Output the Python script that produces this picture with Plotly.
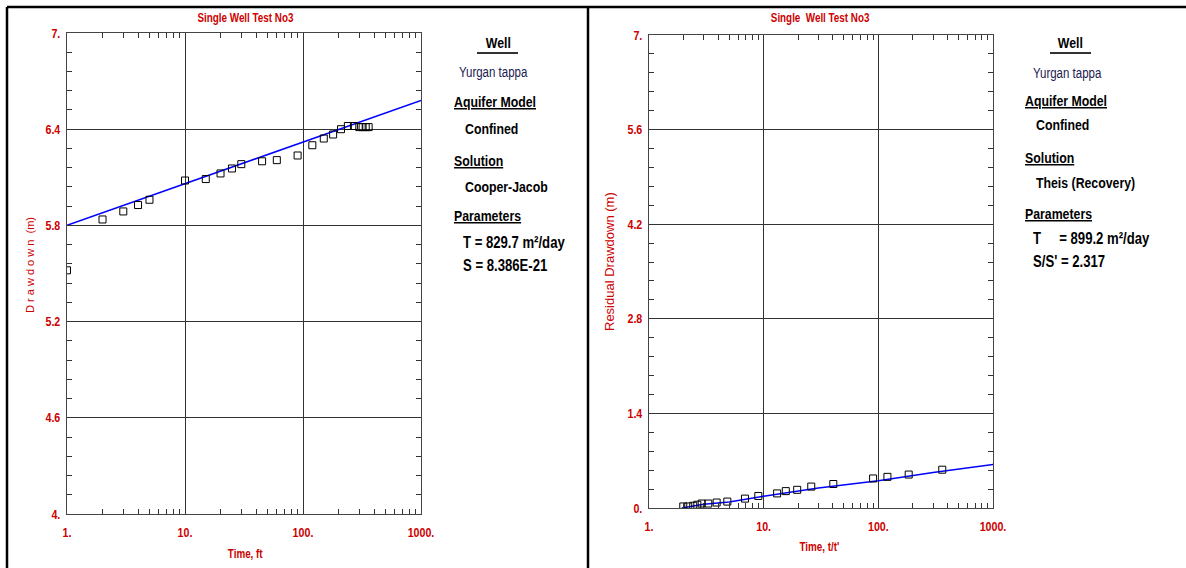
import plotly.graph_objects as go

# ---------------- data ----------------
# Left chart: Cooper-Jacob drawdown
left_time = [1, 2, 3, 4, 5, 10, 15, 20, 25, 30, 45, 60, 90, 120, 150, 180, 210, 240, 270, 300, 320, 340, 360]
left_drawdown = [5.52, 5.837, 5.887, 5.927, 5.96, 6.08, 6.089, 6.124, 6.155, 6.182, 6.20, 6.207, 6.236,
                 6.30, 6.342, 6.367, 6.40, 6.42, 6.42, 6.413, 6.413, 6.413, 6.413]
left_fit_time = [1, 1000]
left_fit_drawdown = [5.80, 6.58]

# Right chart: Theis recovery residual drawdown
right_time = [1.99, 2.2, 2.43, 2.64, 2.88, 3.29, 3.89, 4.82, 6.87, 8.98, 13.1, 15.6, 19.6, 26, 40.5,
              90, 120, 184, 361]
right_residual = [0.023, 0.023, 0.033, 0.048, 0.066, 0.066, 0.081, 0.095, 0.139, 0.178, 0.216, 0.25,
                  0.269, 0.317, 0.355, 0.437, 0.461, 0.495, 0.567]
right_fit_time = [1.93, 3, 5, 10, 30, 100, 300, 1000]
right_fit_residual = [0.0, 0.057, 0.09, 0.175, 0.295, 0.404, 0.525, 0.644]

x_tickvals = [1, 10, 100, 1000]
x_ticktext = ["1.", "10.", "100.", "1000."]
left_y_tickvals = [4, 4.6, 5.2, 5.8, 6.4, 7]
left_y_ticktext = ["4.", "4.6", "5.2", "5.8", "6.4", "7."]
right_y_tickvals = [0, 1.4, 2.8, 4.2, 5.6, 7]
right_y_ticktext = ["0.", "1.4", "2.8", "4.2", "5.6", "7."]

# ---------------- layout helpers ----------------
W, H = 1186, 568
RED = "#cc0000"
NARROW = "Liberation Sans, sans-serif"        # narrowed in the page (Arial Narrow look)
PLAIN = "Arial, Liberation Sans, sans-serif"  # left at normal width
GRID = "#333333"


def px(x):
    return x / W


def py(y):
    return 1 - y / H


minor_x = [k * 10 ** d for d in range(3) for k in range(2, 10)]

fig = go.Figure()

marker = dict(symbol="square-open", size=7, color="black", line=dict(width=1, color="black"))

fig.add_trace(go.Scatter(x=left_fit_time, y=left_fit_drawdown, mode="lines",
                         line=dict(color="#0000ff", width=1.5), xaxis="x", yaxis="y",
                         showlegend=False))
fig.add_trace(go.Scatter(x=left_time, y=left_drawdown, mode="markers", marker=marker,
                         xaxis="x", yaxis="y", showlegend=False))
fig.add_trace(go.Scatter(x=right_fit_time, y=right_fit_residual, mode="lines",
                         line=dict(color="#0000ff", width=1.5), xaxis="x2", yaxis="y2",
                         showlegend=False))
fig.add_trace(go.Scatter(x=right_time, y=right_residual, mode="markers", marker=marker,
                         xaxis="x2", yaxis="y2", showlegend=False))

tickfont = dict(family=NARROW, size=13, color=RED)


def bold(lst):
    return [f"<b>{t}</b>" for t in lst]


def xaxis_cfg(x0, x1, anchor):
    return dict(domain=[px(x0), px(x1)], anchor=anchor, type="log", range=[0, 3],
                tickmode="array", tickvals=x_tickvals, ticktext=bold(x_ticktext),
                tickfont=tickfont, showgrid=True, gridcolor=GRID, gridwidth=1,
                showline=True, linecolor="#444444", linewidth=1.2, mirror="ticks",
                ticks="inside", ticklen=0, ticklabelstandoff=6, zeroline=False,
                automargin=False,
                minor=dict(tickmode="array", tickvals=minor_x, ticks="inside", ticklen=5,
                           tickcolor="#333333", tickwidth=1, showgrid=False),
                fixedrange=True)


def yaxis_cfg(y0, y1, anchor, rng, tv, tt, mdt):
    return dict(domain=[py(y1), py(y0)], anchor=anchor, range=rng,
                tickmode="array", tickvals=tv, ticktext=bold(tt), tickfont=tickfont,
                showgrid=True, gridcolor=GRID, gridwidth=1,
                showline=True, linecolor="#444444", linewidth=1.2, mirror="ticks",
                ticks="inside", ticklen=0, ticklabelstandoff=3, zeroline=False,
                automargin=False,
                minor=dict(tick0=rng[0], dtick=mdt, ticks="inside", ticklen=5,
                           tickcolor="#333333", tickwidth=1, showgrid=False),
                fixedrange=True)


fig.update_layout(
    width=W, height=H, margin=dict(l=0, r=0, t=0, b=0, pad=0, autoexpand=False),
    paper_bgcolor="white", plot_bgcolor="white",
    xaxis=xaxis_cfg(67, 421, "y"),
    yaxis=yaxis_cfg(33, 514, "x", [4, 7], left_y_tickvals, left_y_ticktext, 0.12),
    xaxis2=xaxis_cfg(649, 993, "y2"),
    yaxis2=yaxis_cfg(35, 508, "x2", [0, 7], right_y_tickvals, right_y_ticktext, 0.28),
)

ann = []


def text(x, y, s, size=15, color="black", bold=True, anchor="left", angle=0, family=NARROW):
    if anchor == "left":
        x -= 2  # compensate the annotation box padding
    ann.append(dict(x=px(x), y=py(y), xref="paper", yref="paper", text=(f"<b>{s}</b>" if bold else s),
                    showarrow=False, xanchor=anchor, yanchor="middle", textangle=angle, align=anchor,
                    font=dict(family=family, size=size, color=color)))


# titles
text(245, 18, "Single Well Test No3", size=12, color=RED, anchor="center")
text(820, 18, "Single  Well Test No3", size=12, color=RED, anchor="center")
# axis titles
text(30, 265, "D r a w d o w n  (m)", size=11, color=RED, bold=False, anchor="center", angle=-90,
     family=PLAIN)
text(610, 262, "Residual Drawdown (m)", size=13, color=RED, bold=False, anchor="center", angle=-90,
     family=PLAIN)
text(245, 554, "Time, ft", size=12, color=RED, anchor="center")
text(819, 547, "Time, t/t'", size=12, color=RED, anchor="center")

# legend panels
YT = "#202050"
text(498, 43, "Well", anchor="center")
text(459, 72, "Yurgan tappa", size=14, color=YT, bold=False)
text(454, 101, "<u>Aquifer Model</u>")
text(465, 128, "Confined")
text(454, 160, "<u>Solution</u>")
text(465, 186, "Cooper-Jacob")
text(454, 216, "<u>Parameters</u>")
text(463, 242, "T = 829.7 m²/day", size=16)
text(463, 266, "S = 8.386E-21", size=16)

text(1070, 43, "Well", anchor="center")
text(1033, 73, "Yurgan tappa", size=14, color=YT, bold=False)
text(1025, 100, "<u>Aquifer Model</u>")
text(1036, 125, "Confined")
text(1025, 157, "<u>Solution</u>")
text(1036, 183, "Theis (Recovery)")
text(1025, 213, "<u>Parameters</u>")
text(1033, 238, "T     = 899.2 m²/day", size=16)
text(1033, 262, "S/S' = 2.317", size=16)

fig.update_layout(annotations=ann)

shapes = []


def line(x0, y0, x1, y1, w=2, c="black"):
    shapes.append(dict(type="line", xref="paper", yref="paper", x0=px(x0), y0=py(y0),
                       x1=px(x1), y1=py(y1), line=dict(color=c, width=w)))


# panel frames
line(7, 7, 1186, 7, 2.5)
line(7, 7, 7, 568, 2.5)
line(588, 7, 588, 568, 2.5)
# underline under "Well"
line(477, 53, 518, 53, 2, "#333333")
line(1050, 53, 1091, 53, 2, "#333333")

fig.update_layout(shapes=shapes)

# Narrow the Liberation Sans texts to the Arial-Narrow proportions of the original chart
post = """
document.body.style.margin='0';
(function(){
  function squeeze(){
    var gd=document.getElementById('{plot_id}');
    if(!gd) return;
    gd.querySelectorAll('text').forEach(function(t){
      if(t.getAttribute('data-sq')) return;
      var ff=(t.style.fontFamily||'');
      if(ff.indexOf('Arial')>=0) return;
      var l=t.getComputedTextLength();
      if(l>0){
        t.setAttribute('textLength',(l*0.82).toFixed(2));
        t.setAttribute('lengthAdjust','spacingAndGlyphs');
        t.setAttribute('data-sq','1');
      }
    });
  }
  squeeze();
  setTimeout(squeeze,20);
})();
"""

fig.write_html("out.html", post_script=post)
